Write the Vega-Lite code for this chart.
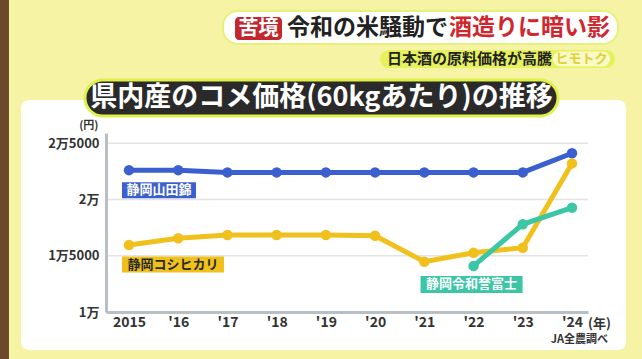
{
  "$schema": "https://vega.github.io/schema/vega-lite/v6.json",
  "width": 482,
  "height": 179,
  "autosize": {"type": "none"},
  "padding": {"left": 106, "top": 133, "right": 54, "bottom": 47},
  "background": "#f6f3a4",
  "config": {
    "view": {"stroke": null},
    "font": "Noto Sans CJK JP",
    "text": {"font": "Noto Sans CJK JP", "fontWeight": "bold"}
  },
  "data": {
    "values": [
      {"series": "静岡山田錦", "year": 2015, "value": 22600},
      {"series": "静岡山田錦", "year": 2016, "value": 22600},
      {"series": "静岡山田錦", "year": 2017, "value": 22400},
      {"series": "静岡山田錦", "year": 2018, "value": 22400},
      {"series": "静岡山田錦", "year": 2019, "value": 22400},
      {"series": "静岡山田錦", "year": 2020, "value": 22400},
      {"series": "静岡山田錦", "year": 2021, "value": 22400},
      {"series": "静岡山田錦", "year": 2022, "value": 22400},
      {"series": "静岡山田錦", "year": 2023, "value": 22400},
      {"series": "静岡山田錦", "year": 2024, "value": 24100},
      {"series": "静岡コシヒカリ", "year": 2015, "value": 15950},
      {"series": "静岡コシヒカリ", "year": 2016, "value": 16550},
      {"series": "静岡コシヒカリ", "year": 2017, "value": 16840},
      {"series": "静岡コシヒカリ", "year": 2018, "value": 16840},
      {"series": "静岡コシヒカリ", "year": 2019, "value": 16840},
      {"series": "静岡コシヒカリ", "year": 2020, "value": 16780},
      {"series": "静岡コシヒカリ", "year": 2021, "value": 14470},
      {"series": "静岡コシヒカリ", "year": 2022, "value": 15270},
      {"series": "静岡コシヒカリ", "year": 2023, "value": 15710},
      {"series": "静岡コシヒカリ", "year": 2024, "value": 23200},
      {"series": "静岡令和誉富士", "year": 2022, "value": 14090},
      {"series": "静岡令和誉富士", "year": 2023, "value": 17790},
      {"series": "静岡令和誉富士", "year": 2024, "value": 19270}
    ]
  },
  "layer": [
    {
      "data": {"values": [{}]},
      "mark": {"type": "rect", "color": "#6b4a2c"},
      "encoding": {
        "x": {"datum": 2012.379, "type": "quantitative"},
        "x2": {"datum": 2012.562},
        "y": {"datum": 37714, "type": "quantitative"},
        "y2": {"datum": 5825}
      }
    },
    {
      "data": {"values": [{}]},
      "mark": {"type": "rect", "color": "#ffffff", "cornerRadius": 8},
      "encoding": {
        "x": {"datum": 2012.806, "type": "quantitative"},
        "x2": {"datum": 2025.097},
        "y": {"datum": 28831, "type": "quantitative"},
        "y2": {"datum": 6625}
      }
    },
    {
      "data": {"values": [{}]},
      "mark": {"type": "rect", "color": "#2a2a2a", "cornerRadius": 18, "stroke": "#dff04a", "strokeWidth": 3},
      "encoding": {
        "x": {"datum": 2014.106, "type": "quantitative"},
        "x2": {"datum": 2023.716},
        "y": {"datum": 30608, "type": "quantitative"},
        "y2": {"datum": 27410}
      }
    },
    {
      "data": {"values": [{}]},
      "mark": {"type": "text", "color": "#ffffff", "fontSize": 27, "align": "center", "baseline": "middle"},
      "encoding": {
        "x": {"datum": 2018.911, "type": "quantitative"},
        "y": {"datum": 29009, "type": "quantitative"},
        "text": {"value": "県内産のコメ価格(60kgあたり)の推移"}
      }
    },
    {
      "data": {"values": [{}]},
      "mark": {"type": "rect", "color": "#ffffff", "cornerRadius": 15, "stroke": "#e4f27a", "strokeWidth": 2},
      "encoding": {
        "x": {"datum": 2016.91, "type": "quantitative"},
        "x2": {"datum": 2024.934},
        "y": {"datum": 36737, "type": "quantitative"},
        "y2": {"datum": 33806}
      }
    },
    {
      "data": {"values": [{}]},
      "mark": {"type": "rect", "color": "#c3272d", "cornerRadius": 4},
      "encoding": {
        "x": {"datum": 2017.154, "type": "quantitative"},
        "x2": {"datum": 2018.108},
        "y": {"datum": 36204, "type": "quantitative"},
        "y2": {"datum": 34161}
      }
    },
    {
      "data": {"values": [{}]},
      "mark": {"type": "text", "color": "#ffffff", "fontSize": 20, "align": "center", "baseline": "middle"},
      "encoding": {
        "x": {"datum": 2017.631, "type": "quantitative"},
        "y": {"datum": 35182, "type": "quantitative"},
        "text": {"value": "苦境"}
      }
    },
    {
      "data": {"values": [{}]},
      "mark": {"type": "text", "color": "#222222", "fontSize": 23, "align": "left", "baseline": "middle"},
      "encoding": {
        "x": {"datum": 2018.21, "type": "quantitative"},
        "y": {"datum": 35227, "type": "quantitative"},
        "text": {"value": "令和の米騒動で"}
      }
    },
    {
      "data": {"values": [{}]},
      "mark": {"type": "text", "color": "#d0262d", "fontSize": 23, "align": "left", "baseline": "middle"},
      "encoding": {
        "x": {"datum": 2021.501, "type": "quantitative"},
        "y": {"datum": 35227, "type": "quantitative"},
        "text": {"value": "酒造りに暗い影"}
      }
    },
    {
      "data": {"values": [{}]},
      "mark": {"type": "rect", "color": "#e6f25c", "cornerRadius": 9},
      "encoding": {
        "x": {"datum": 2020.099, "type": "quantitative"},
        "x2": {"datum": 2024.874},
        "y": {"datum": 33273, "type": "quantitative"},
        "y2": {"datum": 31674}
      }
    },
    {
      "data": {"values": [{}]},
      "mark": {"type": "text", "color": "#222222", "fontSize": 15, "align": "left", "baseline": "middle"},
      "encoding": {
        "x": {"datum": 2020.242, "type": "quantitative"},
        "y": {"datum": 32473, "type": "quantitative"},
        "text": {"value": "日本酒の原料価格が高騰"}
      }
    },
    {
      "data": {"values": [{}]},
      "mark": {"type": "rect", "color": "#f7f9c6", "cornerRadius": 8},
      "encoding": {
        "x": {"datum": 2023.614, "type": "quantitative"},
        "x2": {"datum": 2024.772},
        "y": {"datum": 33150, "type": "quantitative"},
        "y2": {"datum": 31800}
      }
    },
    {
      "data": {"values": [{}]},
      "mark": {"type": "text", "color": "#e3cf3a", "fontSize": 13, "align": "center", "baseline": "middle"},
      "encoding": {
        "x": {"datum": 2024.193, "type": "quantitative"},
        "y": {"datum": 32473, "type": "quantitative"},
        "text": {"value": "ヒモトク"}
      }
    },
    {
      "data": {"values": [{"tick": 15000}, {"tick": 20000}, {"tick": 25000}]},
      "mark": {"type": "rule", "color": "#e4e4e4", "strokeWidth": 1.5},
      "encoding": {
        "y": {"field": "tick", "type": "quantitative"}
      }
    },
    {
      "mark": {"type": "line", "strokeWidth": 5, "point": {"filled": true, "size": 110, "opacity": 1}},
      "encoding": {
        "x": {
          "field": "year",
          "type": "quantitative",
          "scale": {"domain": [2014.533, 2024.325], "nice": false, "zero": false},
          "axis": {
            "zindex": 1,
            "values": [2015, 2016, 2017, 2018, 2019, 2020, 2021, 2022, 2023, 2024],
            "labelExpr": "datum.value==2015?'2015':\"'\"+(datum.value-2000)",
            "title": "(年)",
            "titleX": 493,
            "titleY": 11,
            "titleAlign": "center",
            "titleBaseline": "middle",
            "titleFont": "Noto Sans CJK JP",
            "titleFontSize": 13,
            "titleFontWeight": "bold",
            "titleColor": "#333333",
            "grid": false,
            "ticks": false,
            "domainColor": "#b9c0c4",
            "domainWidth": 3,
            "labelFont": "Noto Sans CJK JP",
            "labelFontSize": 14,
            "labelFontWeight": "bold",
            "labelColor": "#333333",
            "labelPadding": 3,
            "labelFlush": false
          }
        },
        "y": {
          "field": "value",
          "type": "quantitative",
          "scale": {"domain": [10000, 25900], "nice": false, "zero": false},
          "axis": {
            "zindex": 1,
            "values": [10000, 15000, 20000, 25000],
            "labelExpr": "datum.value==10000?'1万':datum.value==15000?'1万5000':datum.value==20000?'2万':'2万5000'",
            "title": "(円)",
            "titleAngle": 0,
            "titleX": -8,
            "titleY": -8,
            "titleAlign": "right",
            "titleBaseline": "middle",
            "titleFont": "Noto Sans CJK JP",
            "titleFontSize": 11,
            "titleFontWeight": "bold",
            "titleColor": "#333333",
            "grid": false,
            "ticks": false,
            "domainColor": "#b9c0c4",
            "domainWidth": 3,
            "labelFont": "Noto Sans CJK JP",
            "labelFontSize": 13,
            "labelFontWeight": "bold",
            "labelColor": "#333333",
            "labelPadding": 7
          }
        },
        "color": {
          "field": "series",
          "type": "nominal",
          "scale": {"domain": ["静岡山田錦", "静岡コシヒカリ", "静岡令和誉富士"], "range": ["#3b5fcf", "#f0c11c", "#3cc6a6"]},
          "legend": null
        }
      }
    },
    {
      "transform": [{"filter": "datum.series=='静岡山田錦' && datum.year==2015"}],
      "mark": {"type": "point", "shape": "M-1,-0.216L1,-0.216L1,0.216L-1,0.216Z", "size": 5476, "filled": true, "opacity": 1, "color": "#3b5fcf", "xOffset": 30, "yOffset": 20},
      "encoding": {"x": {"field": "year", "type": "quantitative"}, "y": {"field": "value", "type": "quantitative"}}
    },
    {
      "transform": [{"filter": "datum.series=='静岡山田錦' && datum.year==2015"}],
      "mark": {"type": "text", "color": "#ffffff", "fontSize": 13, "align": "center", "baseline": "middle", "xOffset": 30, "yOffset": 20},
      "encoding": {"x": {"field": "year", "type": "quantitative"}, "y": {"field": "value", "type": "quantitative"}, "text": {"field": "series"}}
    },
    {
      "transform": [{"filter": "datum.series=='静岡コシヒカリ' && datum.year==2015"}],
      "mark": {"type": "point", "shape": "M-1,-0.157L1,-0.157L1,0.157L-1,0.157Z", "size": 10404, "filled": true, "opacity": 1, "color": "#f0c11c", "xOffset": 44, "yOffset": 19.5},
      "encoding": {"x": {"field": "year", "type": "quantitative"}, "y": {"field": "value", "type": "quantitative"}}
    },
    {
      "transform": [{"filter": "datum.series=='静岡コシヒカリ' && datum.year==2015"}],
      "mark": {"type": "text", "color": "#2a2a2a", "fontSize": 13, "align": "center", "baseline": "middle", "xOffset": 44, "yOffset": 19.5},
      "encoding": {"x": {"field": "year", "type": "quantitative"}, "y": {"field": "value", "type": "quantitative"}, "text": {"field": "series"}}
    },
    {
      "transform": [{"filter": "datum.series=='静岡令和誉富士' && datum.year==2022"}],
      "mark": {"type": "point", "shape": "M-1,-0.167L1,-0.167L1,0.167L-1,0.167Z", "size": 10404, "filled": true, "opacity": 1, "color": "#3cc6a6", "xOffset": -2, "yOffset": 18.5},
      "encoding": {"x": {"field": "year", "type": "quantitative"}, "y": {"field": "value", "type": "quantitative"}}
    },
    {
      "transform": [{"filter": "datum.series=='静岡令和誉富士' && datum.year==2022"}],
      "mark": {"type": "text", "color": "#ffffff", "fontSize": 13, "align": "center", "baseline": "middle", "xOffset": -2, "yOffset": 18.5},
      "encoding": {"x": {"field": "year", "type": "quantitative"}, "y": {"field": "value", "type": "quantitative"}, "text": {"field": "series"}}
    },
    {
      "data": {"values": [{}]},
      "mark": {"type": "text", "color": "#333333", "fontSize": 11, "align": "right", "baseline": "middle"},
      "encoding": {
        "x": {"datum": 2024.732, "type": "quantitative"},
        "y": {"datum": 7513, "type": "quantitative"},
        "text": {"value": "JA全農調べ"}
      }
    }
  ]
}
